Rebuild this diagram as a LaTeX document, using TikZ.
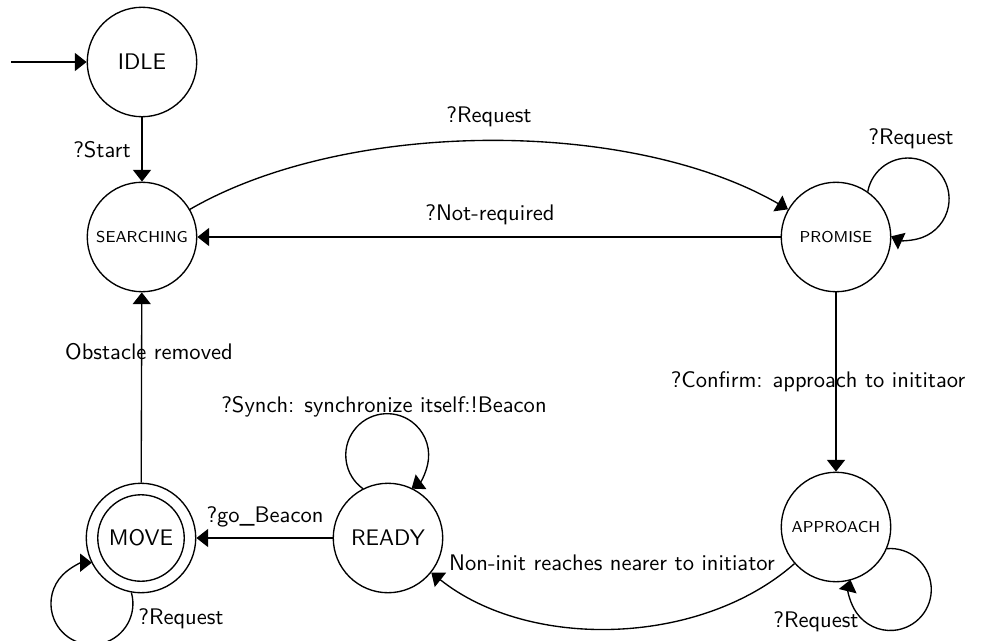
\documentclass[tikz,border=0pt]{standalone}
\usetikzlibrary{arrows.meta}
\begin{document}
\begin{tikzpicture}[x=0.444pt,y=-0.444pt, font=\sffamily, line width=0.6pt,
  state/.style={circle,draw,minimum size=48.6pt,inner sep=0pt},
  smallstate/.style={state,font=\sffamily\scriptsize},
  lbl/.style={inner sep=0pt,font=\sffamily},
  >={Triangle[length=5.2pt,width=8pt]}]
\useasboundingbox (0,0) rectangle (986,640);
% states
\node[state] (idle) at (142,62) {IDLE};
\node[smallstate] (search) at (142,237) {SEARCHING};
\node[smallstate] (promise) at (836,237) {PROMISE};
\node[smallstate] (approach) at (836,527) {APPROACH};
\node[state] (ready) at (388,538) {READY};
\node[state] (move) at (141,538) {MOVE};
\draw (move.center) circle[radius=19.2pt];
\coordinate (init) at (11,62);
% transitions
\draw[->] (init) -- (idle);
\draw[->] (idle) -- (search);
\draw[->] (search) to[bend left=30,looseness=0.78] (promise);
\draw[->] (promise) -- (search);
\draw[->] (promise.55) arc[start angle=169.6, end angle=-114.5, radius=18.2pt];
\draw[->] (promise) -- (approach);
\draw[->] (approach.-23.5) arc[start angle=94.6, end angle=-193.7, radius=18.2pt];
\draw[->] (approach) to[bend left=40,looseness=0.88] (ready);
\draw[->] (ready.117) arc[start angle=234, end angle=-54, radius=18.4pt];
\draw[->] (ready) -- (move);
\draw[->] (move.-100) arc[start angle=15.7, end angle=-269.9, radius=18.2pt];
\draw[->] (move) -- (search);
% labels
\node[lbl] (lstart) at (102,150) {?Start};
\node[lbl] (lreq1) at (489,117) {?Request};
\node[lbl] (lnotreq) at (490,215) {?Not-required};
\node[lbl] (lreq2) at (911,139) {?Request};
\node[lbl] (lconfirm) at (818,382) {?Confirm: approach to inititaor};
\node[lbl] (lobst) at (149,352) {Obstacle removed};
\node[lbl] (lsynch) at (384,407) {?Synch: synchronize itself:!Beacon};
\node[lbl] (lgo) at (265,517) {?go\_Beacon};
\node[lbl] (lreq3) at (181,619) {?Request};
\node[lbl] (lnon) at (612,563) {Non-init reaches nearer to initiator};
\node[lbl] (lreq4) at (816,622) {?Request};
\end{tikzpicture}
\end{document}
